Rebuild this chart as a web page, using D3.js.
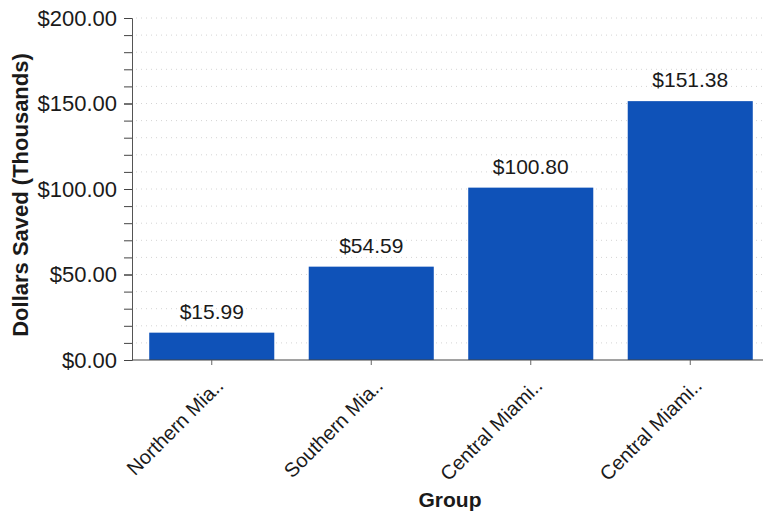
<!DOCTYPE html>
<html>
<head>
<meta charset="utf-8">
<script src="https://cdn.jsdelivr.net/npm/d3@7"></script>
<style>
  body { margin: 0; background: #fff; }
  svg { display: block; font-family: "Liberation Sans", Arial, sans-serif; }
</style>
</head>
<body>
<svg id="chart" width="763" height="513"></svg>
<script>
// Savings per group, in thousands of dollars
const groups = ["Northern Mia..", "Southern Mia..", "Central Miami..", "Central Miami.. "];
const saved = [15.99, 54.59, 100.80, 151.38];
const yMajorTicks = [0, 50, 100, 150, 200];

const svg = d3.select("#chart");
const margin = { left: 132, top: 18, bottom: 153 };
const plotBottom = 513 - margin.bottom;
const FONT = "'Liberation Sans', Arial, sans-serif";

const x = d3.scaleBand()
  .domain(groups)
  .range([margin.left, 770])
  .paddingInner(0.216)
  .paddingOuter(0.108);

const y = d3.scaleLinear()
  .domain([0, 200])
  .range([plotBottom, margin.top]);

const fmt = v => "$" + d3.format(",.2f")(v);

// faint dotted grid every $10
svg.append("g")
  .selectAll("line")
  .data(d3.range(10, 201, 10))
  .join("line")
  .attr("x1", margin.left + 4)
  .attr("x2", 763)
  .attr("y1", d => y(d))
  .attr("y2", d => y(d))
  .attr("stroke", "#d4d4d4")
  .attr("stroke-width", 1)
  .attr("stroke-dasharray", "1,4");

// bars
svg.append("g")
  .selectAll("rect")
  .data(saved)
  .join("rect")
  .attr("x", (d, i) => x(groups[i]))
  .attr("width", x.bandwidth())
  .attr("y", d => y(d))
  .attr("height", d => plotBottom - y(d))
  .attr("fill", "#0f52b8");

// value labels
svg.append("g")
  .selectAll("text")
  .data(saved)
  .join("text")
  .attr("x", (d, i) => x(groups[i]) + x.bandwidth() / 2)
  .attr("y", d => y(d) - 14)
  .attr("text-anchor", "middle")
  .attr("font-size", 21)
  .attr("fill", "#1a1a1a")
  .text(fmt);

// y axis: minor ticks every $10, labels every $50
const yMinor = d3.axisLeft(y).tickValues(d3.range(0, 201, 10)).tickSize(8).tickFormat("");
const gyMinor = svg.append("g").attr("transform", `translate(${margin.left},0)`).call(yMinor);
gyMinor.select(".domain").attr("stroke", "#555");
gyMinor.selectAll(".tick line").attr("stroke", "#444");

const yAxis = d3.axisLeft(y).tickValues(yMajorTicks).tickSize(8).tickPadding(7).tickFormat(fmt);
const gy = svg.append("g").attr("transform", `translate(${margin.left},0)`).call(yAxis);
gy.select(".domain").remove();
gy.selectAll(".tick line").attr("stroke", "#444");
gy.selectAll("text").attr("font-size", 22).attr("fill", "#1a1a1a").attr("font-family", FONT);

// x axis
const xAxis = d3.axisBottom(x).tickSize(5).tickSizeOuter(0).tickFormat(d => d.trim());
const gx = svg.append("g").attr("transform", `translate(0,${plotBottom})`).call(xAxis);
gx.select(".domain").attr("stroke", "#444").attr("d", `M${margin.left},0H763`);
gx.selectAll(".tick line").attr("stroke", "#666");
gx.selectAll("text")
  .attr("font-size", 20)
  .attr("fill", "#1a1a1a")
  .attr("font-family", FONT)
  .attr("text-anchor", "end")
  .attr("dy", "0.35em")
  .attr("y", 0)
  .attr("x", 0)
  .attr("transform", "translate(8,22) rotate(-45)");

// axis titles
svg.append("text")
  .attr("x", 450)
  .attr("y", 507)
  .attr("text-anchor", "middle")
  .attr("font-size", 21)
  .attr("font-weight", "bold")
  .attr("fill", "#1a1a1a")
  .text("Group");

svg.append("text")
  .attr("transform", "translate(28,195) rotate(-90)")
  .attr("text-anchor", "middle")
  .attr("font-size", 22)
  .attr("font-weight", "bold")
  .attr("fill", "#1a1a1a")
  .text("Dollars Saved (Thousands)");
</script>
</body>
</html>
